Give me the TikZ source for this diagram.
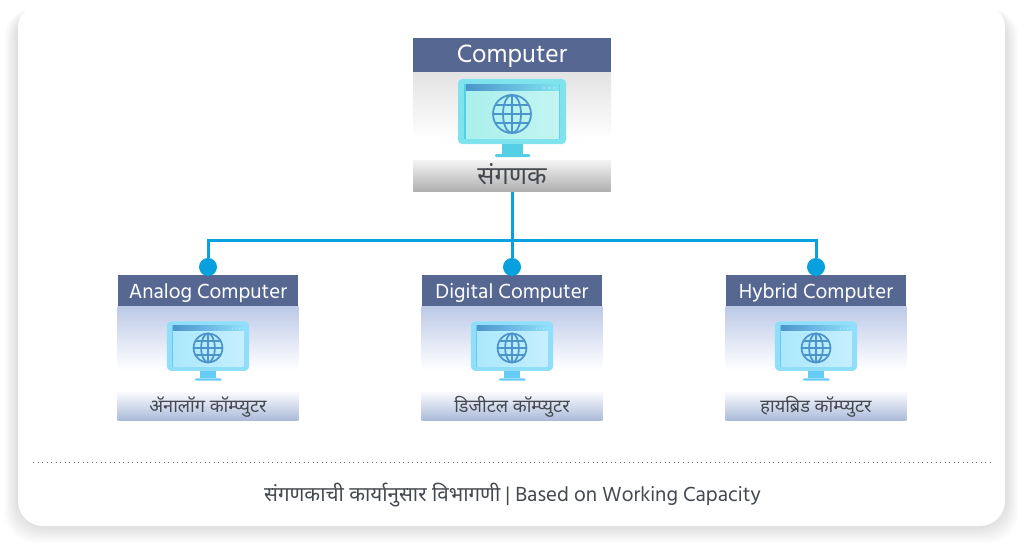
\documentclass[tikz,border=0pt]{standalone}
\usepackage{fontspec}
\setmainfont{Hind Madurai}
\newfontfamily\deva[Script=Devanagari]{Noto Sans}
\definecolor{barblue}{HTML}{566892}
\definecolor{busblue}{HTML}{08A0DF}
\definecolor{inkgrey}{HTML}{44484F}
\definecolor{tintblue}{HTML}{BCCAE8}
\definecolor{aquaframe}{HTML}{7FE3EE}
\definecolor{aquaring}{HTML}{55CFE4}
\definecolor{aquascreen}{HTML}{A9F0EC}
\definecolor{skyframe}{HTML}{8FDFFA}
\definecolor{skyring}{HTML}{66CCF5}
\definecolor{skyscreen}{HTML}{ACE8FD}
\definecolor{globeblue}{HTML}{4C94CC}
\tikzset{
  headbar/.style={fill=barblue,text=white,inner sep=0pt,anchor=center,text depth=0pt},
  footbar/.style={inner sep=0pt,text=inkgrey,anchor=center},
  busline/.style={draw=busblue,line width=.06cm},
  busdot/.style={circle,fill=busblue,inner sep=0pt,minimum size=.36cm},
  pics/monitor/.style n args={3}{code={
    \fill[#1,rounded corners=.08cm] (-54,-39) rectangle (54,26);
    \fill[#2] (-10,26) rectangle (11,36);
    \fill[#2,rounded corners=.02cm] (-17,36) rectangle (18,39);
    \fill[#2] (-48,-34) rectangle (48,21);
    \shade[left color=#3,right color=#3!70!white] (-46,-33) rectangle (47,20);
    \shade[left color=globeblue,right color=#1] (-46,-33) rectangle (47,-27);
    \foreach \d in {32,37,42}
      \fill[white,opacity=.6] (\d,-30) circle (.8);
    \begin{scope}[globeblue,line width=.035cm]
      \draw (0,-4) circle (19);
      \draw (0,-4) ellipse (9 and 19);
      \draw (0,-23) -- (0,15);
      \draw (-19,-4) -- (19,-4);
      \draw (-16.5,-13) -- (16.5,-13);
      \draw (-16.5,5) -- (16.5,5);
    \end{scope}
  }}
}
\begin{document}
\begin{tikzpicture}[x=.02cm,y=-.02cm]
\useasboundingbox (0,0) rectangle (1024,544);
% soft shadow round the card
\foreach \s in {1,...,16}
  \fill[black,opacity=.009,rounded corners=.6cm] (18-\s*.85,8) rectangle (1005+\s*.85,526+\s*1.05);
\fill[white,rounded corners=.5cm] (18,3) rectangle (1005,526);
% top box
\shade[top color=black!11,bottom color=white] (413,72) rectangle (611,140);
\node[headbar,minimum width=3.96cm,minimum height=.68cm,text height=.32cm,font=\fontsize{14.6}{16}\selectfont] (comphead) at (512,55) {Computer};
\pic at (512,118) {monitor={aquaframe}{aquaring}{aquascreen}};
\node[footbar,minimum width=3.96cm,minimum height=.64cm,top color=black!4,bottom color=black!32,text height=.42cm,text depth=.08cm,font=\deva\fontsize{14.4}{16}\selectfont] (compfoot) at (512,176) {संगणक};
% three lower boxes
\foreach \name/\cx/\eng/\mar in {analog/208/Analog Computer/अ‍ॅनालॉग कॉम्प्युटर,digital/512/Digital Computer/डिजीटल कॉम्प्युटर,hybrid/816/Hybrid Computer/हायब्रिड कॉम्प्युटर}{
  \shade[top color=tintblue,bottom color=white] (\cx-90.5,306) rectangle (\cx+90.5,370);
  \node[headbar,minimum width=3.62cm,minimum height=.62cm,text height=.3cm,font=\fontsize{11.9}{14}\selectfont] (\name head) at (\cx,290.5) {\eng};
  \pic[scale=.76] at (\cx,351) {monitor={skyframe}{skyring}{skyscreen}};
  \node[footbar,minimum width=3.62cm,minimum height=.6cm,top color=white,bottom color=tintblue!85!barblue,text height=.34cm,text depth=.04cm,font=\deva\fontsize{10.3}{12}\selectfont] (\name foot) at (\cx,405) {\mar};
  \node[busdot] (\name dot) at (\cx,267) {};
}
% connectors
\coordinate (bus) at (512,240);
\draw[busline] (compfoot) -- (digitaldot);
\draw[busline] (analogdot) |- (bus) -| (hybriddot);
% caption
\draw[black!55,dotted,line width=.02cm] (33,462) -- (991,462);
\node[text=inkgrey,inner sep=0pt,font=\fontsize{11.9}{14}\selectfont] (caption) at (512.5,495) {{\deva\fontsize{11.7}{14}\selectfont संगणकाची कार्यानुसार विभागणी} | Based on Working Capacity};
\end{tikzpicture}
\end{document}
